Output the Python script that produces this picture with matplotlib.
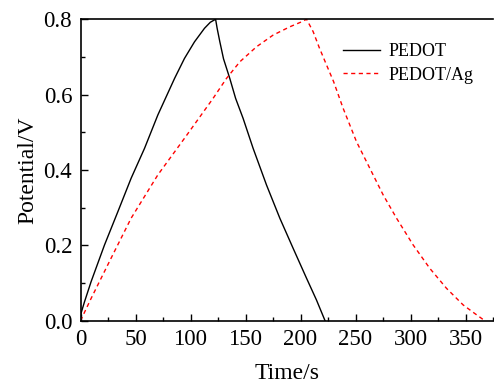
import numpy as np
import matplotlib.pyplot as plt
from matplotlib.ticker import MultipleLocator

# 数据
pedot_t = [0, 0.5, 3.6, 9.6, 21.8, 33.9, 46, 58.2, 70.3, 85.5, 94.5, 103.6, 112.7, 118, 122.8,
           124.2, 126.6, 130, 135.7, 141, 147.8, 156.9, 169.1, 181.2, 193.3, 205.5, 214.5, 222.3]
pedot_v = [0, 0.02, 0.05, 0.1035, 0.201, 0.289, 0.378, 0.4575, 0.546, 0.643, 0.696, 0.740, 0.776, 0.792, 0.8,
           0.776, 0.741, 0.695, 0.643, 0.59, 0.537, 0.4575, 0.360, 0.272, 0.192, 0.1125, 0.055, 0.0]

ag_t = [0, 9.6, 27.8, 46, 70.3, 94.5, 108.5, 120.5, 132.7, 144.8, 160, 175.1, 190.3, 200, 205.5,
        211.5, 217, 223.6, 230, 238.7, 250.9, 263, 275.1, 287.3, 302.4, 317.5, 332.7, 347.8, 358, 367.5]
ag_v = [0, 0.059, 0.166, 0.272, 0.387, 0.484, 0.541, 0.590, 0.643, 0.687, 0.727, 0.758, 0.780, 0.792, 0.8,
        0.767, 0.725, 0.679, 0.635, 0.564, 0.475, 0.4045, 0.334, 0.272, 0.201, 0.139, 0.086, 0.042, 0.02, 0.0]

plt.rcParams['font.family'] = ['Liberation Serif', 'DejaVu Serif']

fig = plt.figure(figsize=(4.94, 3.85), dpi=100)
ax = fig.add_axes([0.163, 0.167, 0.835, 0.783])

ax.plot(pedot_t, pedot_v, color='black', lw=1.0, label='PEDOT')
ax.plot(ag_t, ag_v, color='red', lw=1.0, ls=(0, (3, 2.5)), label='PEDOT/Ag')

ax.set_xlim(0, 375)
ax.set_ylim(0, 0.8)
ax.xaxis.set_major_locator(MultipleLocator(50))
ax.xaxis.set_minor_locator(MultipleLocator(25))
ax.yaxis.set_major_locator(MultipleLocator(0.2))
ax.yaxis.set_minor_locator(MultipleLocator(0.1))
ax.yaxis.set_major_formatter(plt.FormatStrFormatter('%.1f'))
ax.tick_params(which='both', direction='in', top=False, right=False, labelsize=16.5, width=1.0)
ax.tick_params(which='major', length=5, pad=6)
ax.tick_params(which='minor', length=3)
ax.spines['right'].set_visible(False)
for s in ['left', 'bottom', 'top']:
    ax.spines[s].set_linewidth(1.2)

ax.set_xlabel('Time/s', fontsize=17, labelpad=9)
ax.set_ylabel('Potential/V', fontsize=17, labelpad=4)

ax.legend(loc='upper left', bbox_to_anchor=(0.597, 0.975), frameon=False, fontsize=13,
          handlelength=2.05, handletextpad=0.45, labelspacing=0.36)

plt.savefig('out.png', dpi=100)
